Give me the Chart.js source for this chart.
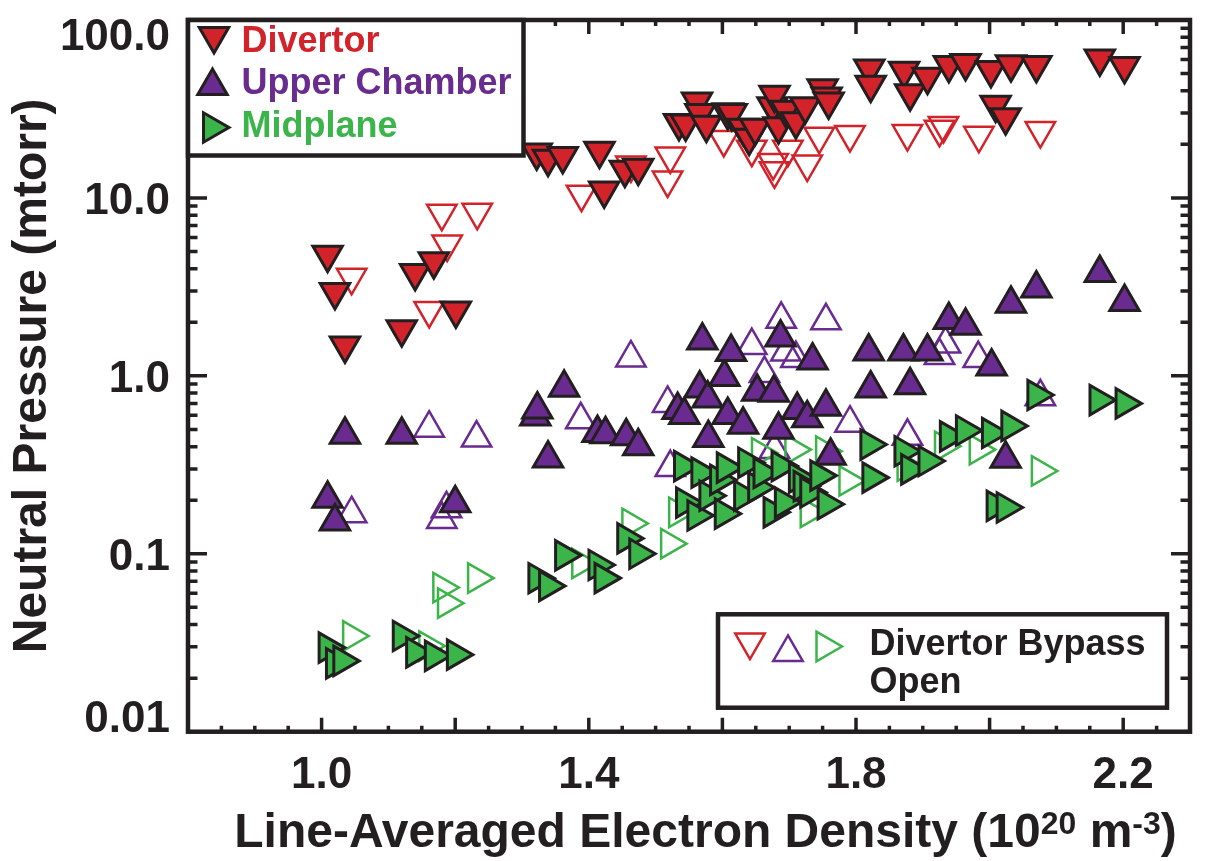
<!DOCTYPE html>
<html>
<head>
<meta charset="utf-8">
<script src="https://cdn.jsdelivr.net/npm/chart.js"></script>
<style>
  html, body { margin: 0; padding: 0; background: #fff; }
  #wrap { width: 1210px; height: 861px; }
</style>
</head>
<body>
<div id="wrap"><canvas id="pressureChart"></canvas></div>
<script>
const RED = '#d2232a';
const PURPLE = '#692b8f';
const GREEN = '#3bb44a';
const INK = '#231f20';
const FONT = '"Liberation Sans", Arial, Helvetica, sans-serif';

// Divertor pressure, bypass closed (filled) and open (hollow)
const divertorX = [1.009, 1.020, 1.035, 1.120, 1.140, 1.168, 1.201, 1.322, 1.339, 1.361, 1.416, 1.423, 1.454, 1.474,
  1.535, 1.545, 1.562, 1.567, 1.576, 1.608, 1.614, 1.631, 1.640, 1.649, 1.675, 1.678, 1.684, 1.695, 1.710, 1.724,
  1.750, 1.756, 1.759, 1.820, 1.822, 1.872, 1.881, 1.907, 1.939, 1.964, 2.002, 2.009, 2.024, 2.032, 2.070, 2.165, 2.202];
const divertorY = [4.79, 2.96, 1.48, 1.83, 3.79, 4.40, 2.33, 18.0, 16.6, 17.2, 18.4, 11.0, 14.4, 14.8,
  26.4, 26.2, 34.8, 30.0, 25.8, 30.3, 30.0, 24.8, 21.8, 24.8, 32.7, 38.0, 25.3, 31.3, 27.0, 32.7,
  41.3, 37.1, 34.8, 53.4, 43.2, 51.9, 38.8, 48.0, 55.8, 57.4, 52.3, 33.4, 28.4, 56.4, 55.8, 60.7, 55.1];
const divertorOpenX = [1.045, 1.161, 1.180, 1.188, 1.233, 1.389, 1.463, 1.518, 1.522, 1.602, 1.644, 1.676, 1.678,
  1.698, 1.727, 1.745, 1.791, 1.877, 1.925, 1.931, 1.984, 2.076];
const divertorOpenY = [3.58, 2.33, 8.2, 5.5, 8.3, 10.5, 15.3, 12.6, 17.2, 21.3, 18.8, 15.8, 14.2,
  18.8, 15.5, 22.2, 22.7, 23.0, 24.3, 25.5, 22.5, 23.9];

// Upper chamber
const upperX = [1.009, 1.020, 1.035, 1.120, 1.200, 1.320, 1.323, 1.339, 1.363, 1.413, 1.425, 1.456, 1.474,
  1.533, 1.543, 1.566, 1.570, 1.578, 1.579, 1.603, 1.608, 1.613, 1.631, 1.652, 1.677, 1.684, 1.687,
  1.712, 1.727, 1.735, 1.755, 1.762, 1.819, 1.822, 1.871, 1.881, 1.907, 1.939, 1.964, 2.003, 2.024,
  2.032, 2.070, 2.165, 2.202];
const upperY = [0.204, 0.152, 0.467, 0.467, 0.192, 0.59, 0.648, 0.343, 0.856, 0.477, 0.470, 0.457, 0.402,
  0.643, 0.602, 0.849, 1.58, 0.747, 0.448, 0.986, 0.602, 1.36, 0.531, 0.813, 0.803, 0.498, 1.64,
  0.643, 0.578, 1.22, 0.670, 0.356, 1.37, 0.849, 1.37, 0.885, 1.37, 2.06, 1.91, 1.13, 0.342,
  2.54, 3.10, 3.78, 2.60];
const upperOpenX = [1.045, 1.161, 1.180, 1.187, 1.232, 1.388, 1.463, 1.518, 1.522, 1.644, 1.663, 1.678, 1.688,
  1.695, 1.710, 1.755, 1.791, 1.877, 1.925, 1.934, 1.983, 2.076];
const upperOpenY = [0.168, 0.508, 0.156, 0.179, 0.447, 0.566, 1.26, 0.70, 0.305, 1.48, 1.03, 0.385, 2.08,
  1.36, 1.25, 2.04, 0.542, 0.457, 1.30, 1.51, 1.25, 0.762];

// Midplane
const midplaneX = [1.009, 1.020, 1.031, 1.120, 1.140, 1.168, 1.201, 1.323, 1.339, 1.363, 1.413, 1.422, 1.456, 1.474,
  1.541, 1.544, 1.561, 1.567, 1.579, 1.595, 1.602, 1.605, 1.631, 1.637, 1.652, 1.660, 1.675, 1.687, 1.692,
  1.713, 1.720, 1.730, 1.745, 1.756, 1.820, 1.823, 1.871, 1.881, 1.907, 1.939, 1.963, 2.002, 2.009, 2.024,
  2.031, 2.070, 2.163, 2.202];
const midplaneY = [0.0297, 0.0242, 0.0250, 0.0345, 0.0279, 0.0267, 0.0271, 0.0729, 0.066, 0.098, 0.0865, 0.073, 0.122, 0.100,
  0.311, 0.194, 0.164, 0.286, 0.212, 0.26, 0.168, 0.305, 0.212, 0.325, 0.236, 0.285, 0.171, 0.311, 0.194,
  0.268, 0.24, 0.221, 0.275, 0.190, 0.411, 0.268, 0.377, 0.298, 0.332, 0.457, 0.493, 0.477, 0.186, 0.182,
  0.523, 0.780, 0.731, 0.700];
const midplaneOpenX = [1.045, 1.159, 1.180, 1.187, 1.232, 1.388, 1.463, 1.521, 1.533, 1.657, 1.707, 1.730,
  1.753, 1.788, 1.875, 1.931, 1.983, 2.076];
const midplaneOpenY = [0.0345, 0.0303, 0.0646, 0.0528, 0.0730, 0.0883, 0.148, 0.114, 0.171, 0.369, 0.385, 0.171,
  0.377, 0.257, 0.311, 0.402, 0.385, 0.292];

// axis ticks and labels
const xLabelValues = [1.0, 1.4, 1.8, 2.2];
const xTickLabels = ['1.0', '1.4', '1.8', '2.2'];
const yLabelValues = [100, 10, 1, 0.1, 0.01];
const yTickLabels = ['100.0', '10.0', '1.0', '0.1', '0.01'];
const yTitle = 'Neutral Pressure (mtorr)';
const xTitleParts = [
  { text: 'Line-Averaged Electron Density (10', sup: false },
  { text: '20', sup: true },
  { text: ' m', sup: false },
  { text: '-3', sup: true },
  { text: ')', sup: false },
];

const toPoints = (xs, ys) => xs.map((x, i) => ({ x, y: ys[i] }));

function series(label, xs, ys, color, rotation, filled, order) {
  return {
    label,
    data: toPoints(xs, ys),
    order,
    pointStyle: 'triangle',
    pointRotation: rotation,
    pointRadius: 17,
    pointHoverRadius: 17,
    pointBackgroundColor: filled ? color : 'rgba(255,255,255,0)',
    pointBorderColor: filled ? INK : color,
    pointBorderWidth: filled ? 3 : 2.5,
    pointHoverBorderWidth: filled ? 3 : 2.5,
  };
}

function triangle(ctx, cx, cy, r, rotDeg) {
  let rad = rotDeg * Math.PI / 180;
  ctx.beginPath();
  for (let i = 0; i < 3; i++) {
    const px = cx + Math.sin(rad) * r;
    const py = cy - Math.cos(rad) * r;
    if (i === 0) ctx.moveTo(px, py); else ctx.lineTo(px, py);
    rad += 2 * Math.PI / 3;
  }
  ctx.closePath();
}

const decorations = {
  id: 'decorations',
  afterDatasetsDraw(chart) {
    const { ctx, chartArea: a, scales: { x, y } } = chart;
    ctx.save();

    // inward ticks on all four sides
    ctx.strokeStyle = INK;
    ctx.lineWidth = 3.5;
    ctx.beginPath();
    for (let i = 1; i < 30; i++) {
      const px = x.getPixelForValue(0.8 + i * 0.05);
      const len = i % 4 === 0 ? 14 : 6;
      ctx.moveTo(px, a.bottom); ctx.lineTo(px, a.bottom - len);
      ctx.moveTo(px, a.top); ctx.lineTo(px, a.top + len);
    }
    for (let d = -2; d < 2; d++) {
      for (let k = 1; k < 10; k++) {
        if (d === -2 && k === 1) continue;
        const py = y.getPixelForValue(k * Math.pow(10, d));
        const len = k === 1 ? 19 : 9.5;
        ctx.moveTo(a.left, py); ctx.lineTo(a.left + len, py);
        ctx.moveTo(a.right, py); ctx.lineTo(a.right - len, py);
      }
    }
    ctx.stroke();

    ctx.lineWidth = 4.5;
    ctx.strokeRect(a.left, a.top, a.right - a.left, a.bottom - a.top);

    // y tick labels
    ctx.fillStyle = INK;
    ctx.font = 'bold 44px ' + FONT;
    ctx.textAlign = 'right';
    ctx.textBaseline = 'alphabetic';
    yLabelValues.forEach((v, i) => {
      const py = y.getPixelForValue(v);
      const base = Math.min(Math.max(py + 16, a.top + 30), a.bottom);
      ctx.fillText(yTickLabels[i], a.left - 18, base);
    });

    // x title with superscripts
    const mainFont = 'bold 48px ' + FONT;
    const supFont = 'bold 32px ' + FONT;
    let total = 0;
    xTitleParts.forEach(p => { ctx.font = p.sup ? supFont : mainFont; total += ctx.measureText(p.text).width; });
    let tx = 705.5 - total / 2;
    ctx.textAlign = 'left';
    xTitleParts.forEach(p => {
      ctx.font = p.sup ? supFont : mainFont;
      ctx.fillText(p.text, tx, p.sup ? 834 : 847);
      tx += ctx.measureText(p.text).width;
    });

    // legend: series
    ctx.lineWidth = 4.5;
    ctx.fillStyle = '#fff';
    ctx.fillRect(a.left, a.top, 523.5 - a.left, 155.5 - a.top);
    ctx.strokeRect(a.left, a.top, 523.5 - a.left, 155.5 - a.top);
    const entries = [
      { text: 'Divertor', color: RED, rot: 180, mx: 214, my: 36, base: 51.7 },
      { text: 'Upper Chamber', color: PURPLE, rot: 0, mx: 212.5, my: 86, base: 94 },
      { text: 'Midplane', color: GREEN, rot: 90, mx: 212, my: 127.5, base: 137.3 },
    ];
    ctx.font = 'bold 36px ' + FONT;
    entries.forEach(e => {
      triangle(ctx, e.mx, e.my, 17, e.rot);
      ctx.fillStyle = e.color; ctx.fill();
      ctx.strokeStyle = INK; ctx.lineWidth = 3; ctx.stroke();
      ctx.fillStyle = e.color;
      ctx.fillText(e.text, 241.5, e.base);
    });

    // legend: bypass open
    ctx.fillStyle = '#fff';
    ctx.strokeStyle = INK;
    ctx.lineWidth = 4.5;
    ctx.fillRect(718, 614.3, 449, 93.4);
    ctx.strokeRect(718, 614.3, 449, 93.4);
    [[RED, 180, 750, 642], [PURPLE, 0, 788, 652.4], [GREEN, 90, 825, 646.5]].forEach(([c, rot, mx, my]) => {
      triangle(ctx, mx, my, 17, rot);
      ctx.strokeStyle = c; ctx.lineWidth = 2.5; ctx.stroke();
    });
    ctx.fillStyle = INK;
    ctx.font = 'bold 36px ' + FONT;
    ctx.fillText('Divertor Bypass', 869.5, 655);
    ctx.fillText('Open', 869.5, 693.3);

    ctx.restore();
  }
};

new Chart(document.getElementById('pressureChart'), {
  type: 'scatter',
  data: {
    datasets: [
      series('Midplane', midplaneX, midplaneY, GREEN, 90, true, 1),
      series('Upper Chamber', upperX, upperY, PURPLE, 0, true, 2),
      series('Divertor', divertorX, divertorY, RED, 180, true, 3),
      series('Midplane (bypass open)', midplaneOpenX, midplaneOpenY, GREEN, 90, false, 4),
      series('Upper Chamber (bypass open)', upperOpenX, upperOpenY, PURPLE, 0, false, 5),
      series('Divertor (bypass open)', divertorOpenX, divertorOpenY, RED, 180, false, 6),
    ]
  },
  options: {
    responsive: true,
    maintainAspectRatio: false,
    animation: false,
    events: [],
    layout: { padding: { top: 12.7, right: 7, bottom: 0, left: 0 } },
    plugins: {
      legend: { display: false },
      tooltip: { enabled: false },
    },
    scales: {
      x: {
        type: 'linear',
        min: 0.8,
        max: 2.3,
        grid: { display: false, drawTicks: false },
        border: { display: false },
        afterBuildTicks: s => { s.ticks = xLabelValues.map(v => ({ value: v })); },
        afterFit: s => { s.height = 129.3; },
        ticks: {
          autoSkip: false,
          maxRotation: 0,
          padding: 18,
          color: INK,
          font: { family: FONT, size: 44, weight: 'bold' },
          callback: (v, i) => xTickLabels[i],
        },
        title: { display: false },
      },
      y: {
        type: 'logarithmic',
        min: 0.01,
        max: 100,
        grid: { display: false, drawTicks: false },
        border: { display: false },
        ticks: { display: false },
        afterFit: s => { s.width = 188; },
        title: {
          display: true,
          text: yTitle,
          color: INK,
          font: { family: FONT, size: 48, weight: 'bold' },
          padding: { top: 4, bottom: 0 },
        },
      }
    }
  },
  plugins: [decorations]
});
</script>
</body>
</html>
